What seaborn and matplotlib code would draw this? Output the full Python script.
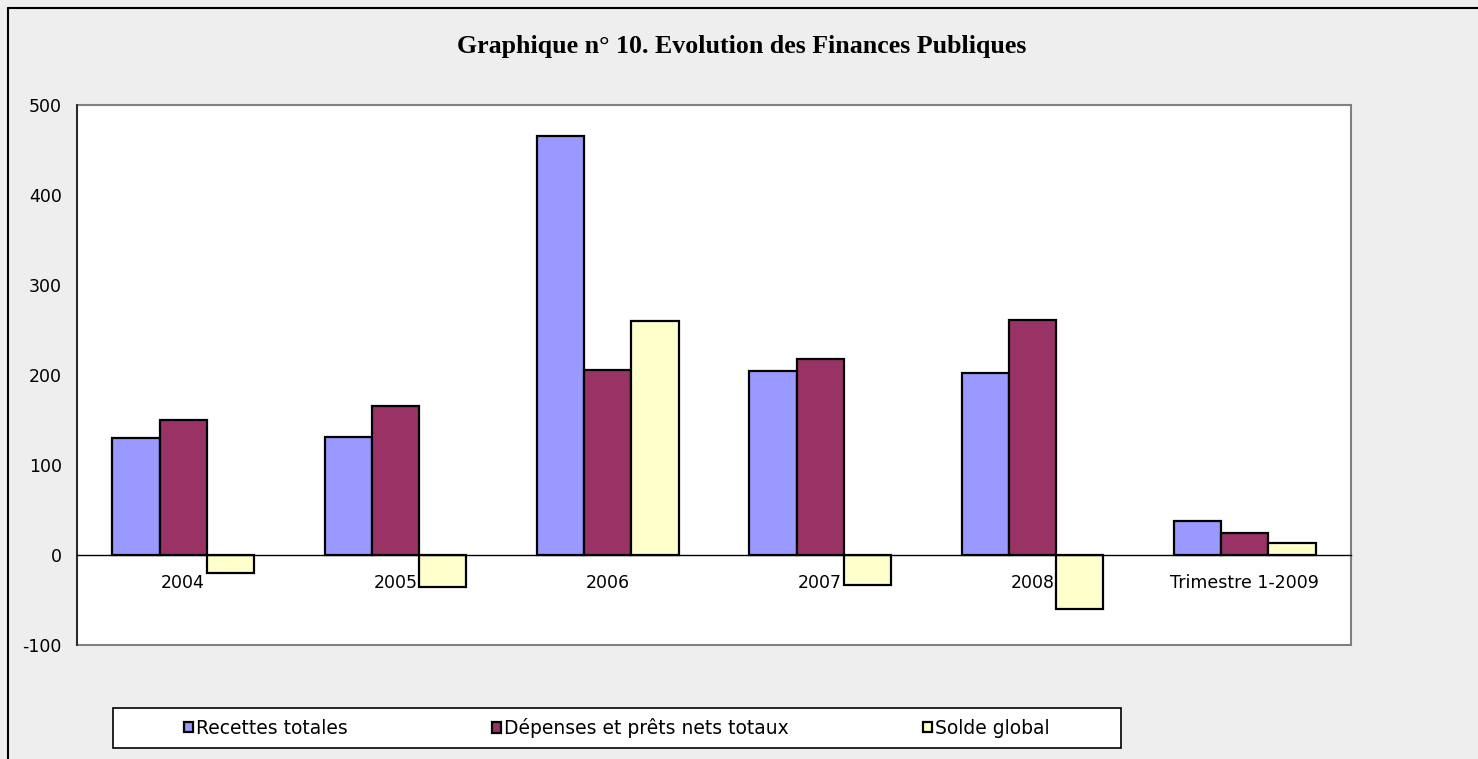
import numpy as np
import pandas as pd
import matplotlib
matplotlib.use("Agg")
import matplotlib.pyplot as plt
from matplotlib.lines import Line2D
from matplotlib.patches import Rectangle
import seaborn as sns

categories = ["2004", "2005", "2006", "2007", "2008", "Trimestre 1-2009"]
series = ["Recettes totales", "Dépenses et prêts nets totaux", "Solde global"]
recettes = [130, 131.5, 466, 204, 202, 38]
depenses = [149.5, 166, 206, 218, 261.5, 25]
solde = [-19.5, -35, 260, -33.5, -59.5, 13.5]
colors = ["#9999FF", "#993366", "#FFFFCC"]
yticks = [-100, 0, 100, 200, 300, 400, 500]
title = "Graphique n° 10. Evolution des Finances Publiques"

df = pd.DataFrame({
    "cat": categories * 3,
    "serie": [series[0]] * 6 + [series[1]] * 6 + [series[2]] * 6,
    "val": recettes + depenses + solde,
})

sns.set_style("white")
plt.rcParams["font.family"] = ["DejaVu Sans"]
plt.rcParams["text.color"] = "black"
plt.rcParams["xtick.color"] = "black"
plt.rcParams["ytick.color"] = "black"

FS = 12.5
LFS = 13.5
W, H = 1478, 759
fig = plt.figure(figsize=(W / 100, H / 100), dpi=100)
fig.patch.set_facecolor("#eeeeee")

ax = fig.add_axes([77 / W, 1 - 645 / H, (1351 - 77) / W, (645 - 105) / H])
sns.barplot(data=df, x="cat", y="val", hue="serie", palette=colors,
            width=0.667, edgecolor="black", linewidth=1.6, saturation=1,
            order=categories, hue_order=series, ax=ax, legend=True)

ax.set_xlim(-0.5, len(categories) - 0.5)
ax.set_ylim(-100, 500)
ax.set_yticks(yticks)
ax.set_yticklabels([str(v) for v in yticks], fontsize=FS)
ax.set_xlabel("")
ax.set_ylabel("")
ax.set_facecolor("white")
ax.patch.set_edgecolor("#808080")
ax.patch.set_linewidth(1.5)

for s in ["top", "right"]:
    ax.spines[s].set_visible(False)
ax.spines["left"].set_color("#202020")
ax.spines["left"].set_linewidth(1.3)
ax.spines["bottom"].set_position(("data", 0))
ax.spines["bottom"].set_color("black")
ax.spines["bottom"].set_linewidth(1.0)

ax.tick_params(axis="y", which="major", direction="out", length=5, width=1,
               color="#404040", labelcolor="black", labelsize=FS, pad=6)
ax.tick_params(axis="x", which="major", length=0, labelsize=FS, pad=14,
               labelcolor="black")
ax.set_xticks(np.arange(len(categories)))
ax.set_xticklabels(categories, fontsize=FS)
ax.set_xticks(np.arange(len(categories)) + 0.5, minor=True)
ax.tick_params(axis="x", which="minor", direction="out", length=4, width=1,
               color="#404040")
ax.grid(False)

handles, labels = ax.get_legend_handles_labels()
ax.get_legend().remove()

# legend frame
fig.add_artist(Rectangle((113 / W, 1 - 748 / H), (1121 - 113) / W, 40 / H,
                         transform=fig.transFigure, facecolor="white",
                         edgecolor="black", linewidth=1.2))
xs = [184, 492, 923]
for h, l, x in zip(handles, labels, xs):
    fig.legend([h], [l], loc="center left", bbox_to_anchor=(x / W, 1 - 728 / H),
               frameon=False, fontsize=LFS, handlelength=0.5, handleheight=0.5,
               handletextpad=0.15, borderpad=0, borderaxespad=0)

fig.text(742 / W, 1 - 46 / H, title, ha="center", va="center",
         fontsize=18.6, fontweight="bold", color="black",
         family=["Liberation Serif", "DejaVu Serif"])

# outer frame
fig.add_artist(Line2D([8 / W, 1], [1 - 8 / H, 1 - 8 / H], transform=fig.transFigure,
                      color="black", linewidth=1.5))
fig.add_artist(Line2D([8 / W, 8 / W], [0, 1 - 8 / H], transform=fig.transFigure,
                      color="black", linewidth=1.5))

fig.savefig("out.png", dpi=100, facecolor=fig.get_facecolor())
